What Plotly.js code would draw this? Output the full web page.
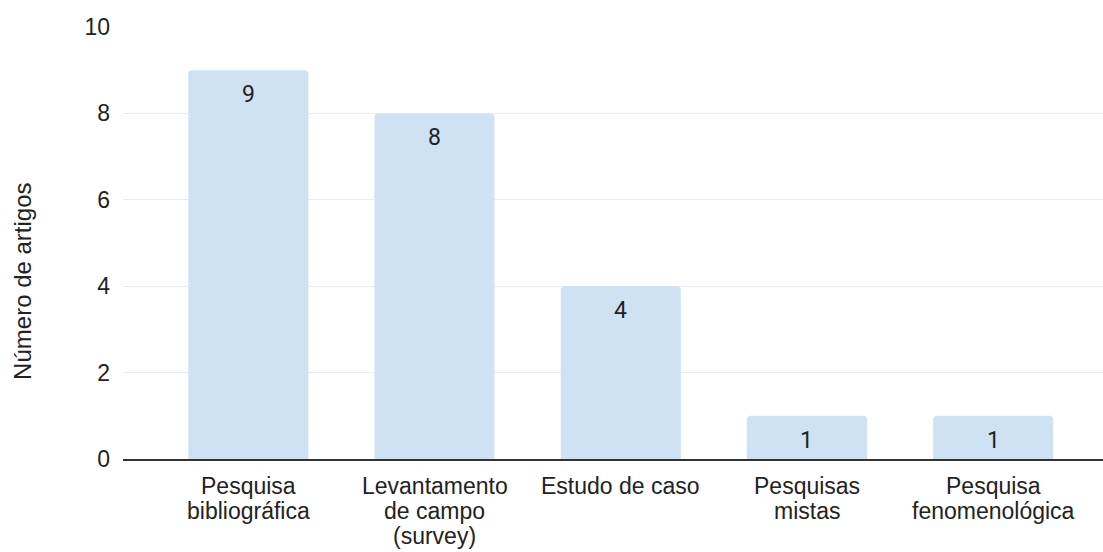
<!DOCTYPE html>
<html>
<head>
<meta charset="utf-8">
<script src="https://cdn.plot.ly/plotly-3.0.1.min.js"></script>
<style>html,body{margin:0;padding:0;background:#fff;}#chart{width:1103px;height:552px;}</style>
</head>
<body>
<div id="chart"></div>
<script>
const categories = ["Pesquisa bibliográfica", "Levantamento de campo (survey)", "Estudo de caso", "Pesquisas mistas", "Pesquisa fenomenológica"];
const tickLabels = [["Pesquisa", "bibliográfica"], ["Levantamento", "de campo", "(survey)"], ["Estudo de caso"], ["Pesquisas", "mistas"], ["Pesquisa", "fenomenológica"]];
const values = [9, 8, 4, 1, 1];
const yTicks = [0, 2, 4, 6, 8, 10];
const yTitle = "Número de artigos";

const trace = {
  type: "bar",
  x: categories,
  y: values,
  marker: {color: "#cfe2f3", cornerradius: 4},
  width: 0.645,
  hoverinfo: "none"
};

const annotations = [];
categories.forEach((c, i) => {
  annotations.push({
    x: c, y: values[i], xref: "x", yref: "y",
    text: String(values[i]), showarrow: false,
    yanchor: "top", yshift: -9,
    font: {family: "Roboto, Liberation Sans, Arial", size: 23, color: "#222"}
  });
  tickLabels[i].forEach((line, k) => {
    annotations.push({
      x: c, y: 0, xref: "x", yref: "paper",
      text: line, showarrow: false,
      yanchor: "top", yshift: -12 - 25 * k,
      font: {family: "Liberation Sans, Arial, sans-serif", size: 23, color: "#222"}
    });
  });
});
annotations.push({
  x: 0, y: 0.41, xref: "paper", yref: "paper",
  xshift: -100, text: yTitle, showarrow: false, textangle: -90,
  xanchor: "center", yanchor: "middle",
  font: {family: "Liberation Sans, Arial, sans-serif", size: 24, color: "#222"}
});

const layout = {
  width: 1103, height: 552,
  margin: {l: 123, r: 0, t: 27, b: 93},
  paper_bgcolor: "#fff", plot_bgcolor: "#fff",
  showlegend: false,
  font: {family: "Liberation Sans, Arial, sans-serif", size: 23, color: "#222"},
  xaxis: {
    type: "category",
    range: [-0.673, 4.59],
    showgrid: false, zeroline: false,
    showline: true, linecolor: "#333", linewidth: 2,
    ticks: "", showticklabels: false,
    automargin: false, fixedrange: true
  },
  yaxis: {
    range: [0, 10], tickvals: yTicks, ticktext: yTicks.map(String),
    showgrid: true, gridcolor: "#ebebeb", gridwidth: 1,
    zeroline: false, showline: false,
    ticks: "", ticklabelstandoff: 12,
    automargin: false, fixedrange: true
  },
  annotations: annotations
};

Plotly.newPlot("chart", [trace], layout, {staticPlot: true, displayModeBar: false});
</script>
</body>
</html>
